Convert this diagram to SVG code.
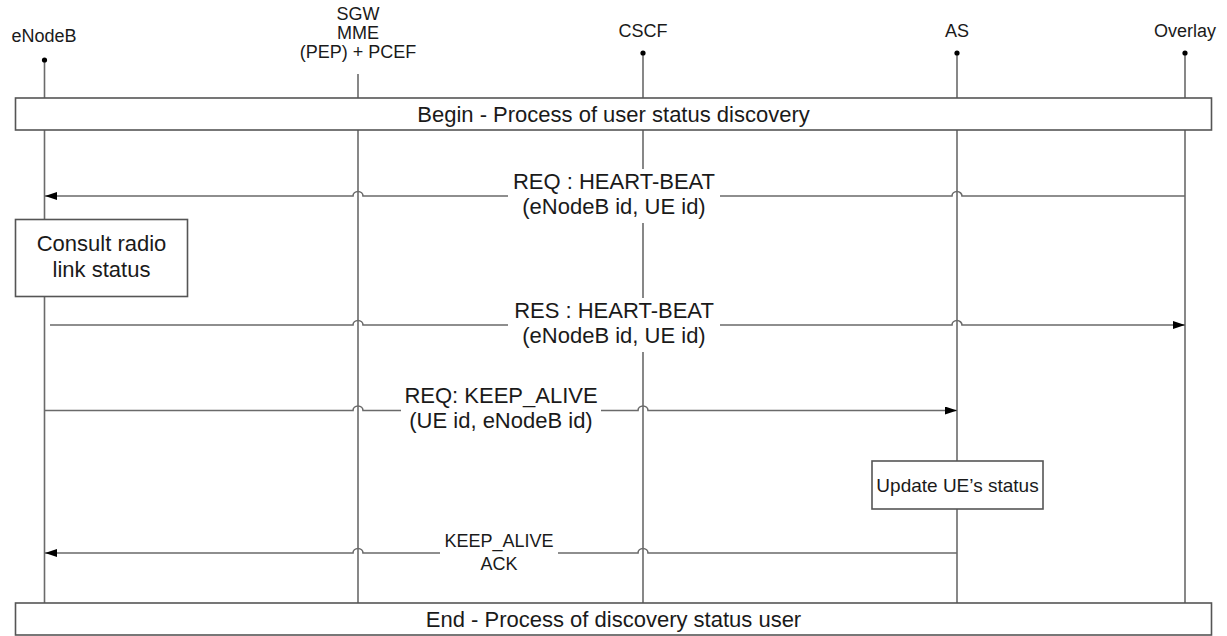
<svg xmlns="http://www.w3.org/2000/svg" width="1227" height="636" viewBox="0 0 1227 636">
<style>
text{font-family:"Liberation Sans",Arial,sans-serif;fill:#1a1a1a}
.hd{font-size:18px;text-anchor:middle}
.lbl{font-size:22px;text-anchor:middle}
.sm{font-size:18px;text-anchor:middle}
.life{stroke:#6a6a6a;stroke-width:1.6;fill:none}
.box{fill:#fff;stroke:#555;stroke-width:1.6}
.msg{stroke:#6a6a6a;stroke-width:1.6;fill:none}
.bg{fill:#fff;stroke:none}
</style>
<defs>
<marker id="ah" markerWidth="12" markerHeight="8" refX="12" refY="4" orient="auto" markerUnits="userSpaceOnUse">
<path d="M0,0 L12,4 L0,8 z" fill="#000"/>
</marker>
</defs>
<rect width="1227" height="636" fill="#fff"/>

<g id="eNodeB">
<text class="hd" x="44" y="42">eNodeB</text>
<line class="life" x1="44.5" y1="60" x2="44.5" y2="603"/>
<circle cx="44.5" cy="60" r="2.6" fill="#000"/>
</g>
<g id="SGW">
<text class="hd" x="358" y="20">SGW</text>
<text class="hd" x="358" y="39">MME</text>
<text class="hd" x="358" y="58">(PEP) + PCEF</text>
<line class="life" x1="358" y1="74" x2="358" y2="603"/>
</g>
<g id="CSCF">
<text class="hd" x="643" y="37">CSCF</text>
<line class="life" x1="643" y1="53" x2="643" y2="603"/>
<circle cx="643" cy="53" r="2.6" fill="#000"/>
</g>
<g id="AS">
<text class="hd" x="957" y="37">AS</text>
<line class="life" x1="957" y1="53" x2="957" y2="603"/>
<circle cx="957" cy="53" r="2.6" fill="#000"/>
</g>
<g id="Overlay">
<text class="hd" x="1185" y="37">Overlay</text>
<line class="life" x1="1185" y1="53" x2="1185" y2="603"/>
<circle cx="1185" cy="53" r="2.6" fill="#000"/>
</g>

<g id="begin">
<rect class="box" x="15.5" y="98" width="1196" height="32"/>
<text class="lbl" x="613.5" y="122">Begin - Process of user status discovery</text>
</g>
<g id="end">
<rect class="box" x="15.5" y="603" width="1196" height="32"/>
<text class="lbl" x="613.5" y="627">End - Process of discovery status user</text>
</g>
<g id="consult">
<rect class="box" x="15.5" y="219.5" width="172" height="77"/>
<text class="lbl" x="101.5" y="251">Consult radio</text>
<text class="lbl" x="101.5" y="277">link status</text>
</g>
<g id="update">
<rect class="box" x="872" y="461" width="171" height="48"/>
<text x="957.5" y="492" style="font-size:19px;text-anchor:middle">Update UE’s status</text>
</g>

<g id="connectors">
<path class="msg" marker-end="url(#ah)" d="M1185 196 L962 196 A5 4.5 0 0 0 952 196 L363 196 A5 4.5 0 0 0 353 196 L45 196"/>
<path class="msg" marker-end="url(#ah)" d="M50 325 L353 325 A5 4.5 0 0 1 363 325 L952 325 A5 4.5 0 0 1 962 325 L1185 325"/>
<path class="msg" marker-end="url(#ah)" d="M45 410.5 L353 410.5 A5 4.5 0 0 1 363 410.5 L638 410.5 A5 4.5 0 0 1 648 410.5 L957 410.5"/>
<path class="msg" marker-end="url(#ah)" d="M957 553 L648 553 A5 4.5 0 0 0 638 553 L363 553 A5 4.5 0 0 0 353 553 L45 553"/>
</g>

<g id="labels">
<rect class="bg" x="508" y="169" width="212" height="54"/>
<text class="lbl" x="614" y="189">REQ : HEART-BEAT</text>
<text class="lbl" x="614" y="214">(eNodeB id, UE id)</text>
<rect class="bg" x="508" y="298" width="212" height="54"/>
<text class="lbl" x="614" y="318">RES : HEART-BEAT</text>
<text class="lbl" x="614" y="343">(eNodeB id, UE id)</text>
<rect class="bg" x="401" y="385" width="200" height="50"/>
<text class="lbl" x="501" y="403">REQ: KEEP_ALIVE</text>
<text class="lbl" x="501" y="428">(UE id, eNodeB id)</text>
<rect class="bg" x="440" y="532" width="118" height="42"/>
<text class="sm" x="499" y="547">KEEP_ALIVE</text>
<text class="sm" x="499" y="570">ACK</text>
</g>
</svg>
